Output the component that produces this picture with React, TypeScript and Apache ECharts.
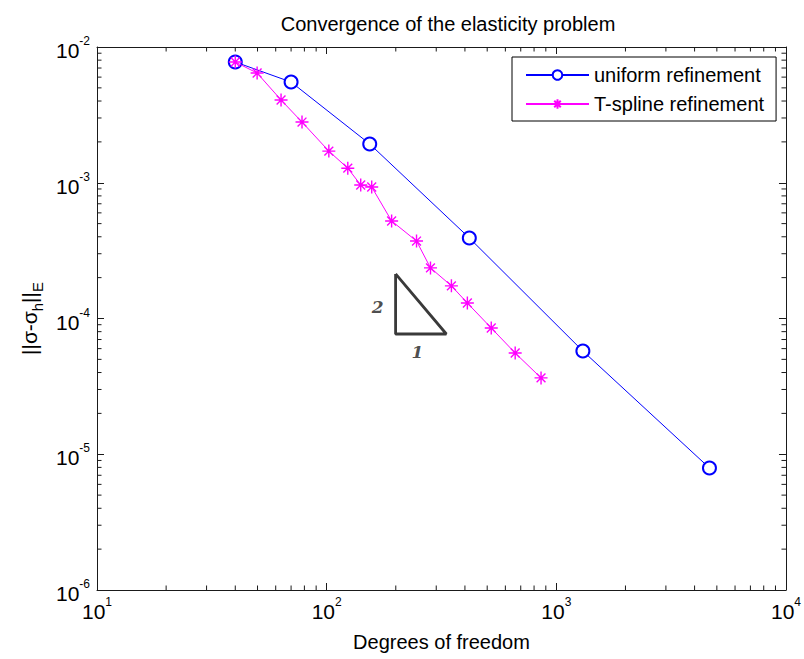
import React, { useEffect, useRef } from "react";
import * as echarts from "echarts";

const X_MIN = 10;
const X_MAX = 10000;
const Y_MIN = 1e-6;
const Y_MAX = 1e-2;

const uniformDofs = [40, 70, 154, 418, 1305, 4643];
const uniformErr = [7.75e-3, 5.52e-3, 1.93e-3, 3.92e-4, 5.76e-5, 7.92e-6];

const tsplineDofs = [40, 49.8, 63.3, 78.1, 102.2, 123.6, 140.7, 157.1, 191.8, 246.2, 283.2, 349.3, 409.9, 520.8, 662, 858];
const tsplineErr = [7.75e-3, 6.43e-3, 4.07e-3, 2.8e-3, 1.71e-3, 1.28e-3, 9.63e-4, 9.3e-4, 5.23e-4, 3.72e-4, 2.36e-4, 1.74e-4, 1.3e-4, 8.51e-5, 5.57e-5, 3.65e-5];

const slopeTriX = [199.6, 199.6, 332, 199.6];
const slopeTriY = [2.13e-4, 7.69e-5, 7.69e-5, 2.13e-4];
const slopeLabels = [
  { text: "2", x: 166.8, y: 1.215e-4 },
  { text: "1", x: 248.7, y: 5.66e-5 },
];

const xMinorTicks = [20, 30, 40, 50, 60, 70, 80, 90, 200, 300, 400, 500, 600, 700, 800, 900, 2000, 3000, 4000, 5000, 6000, 7000, 8000, 9000];
const yMinorTicks = [
  2e-6, 3e-6, 4e-6, 5e-6, 6e-6, 7e-6, 8e-6, 9e-6,
  2e-5, 3e-5, 4e-5, 5e-5, 6e-5, 7e-5, 8e-5, 9e-5,
  2e-4, 3e-4, 4e-4, 5e-4, 6e-4, 7e-4, 8e-4, 9e-4,
  2e-3, 3e-3, 4e-3, 5e-3, 6e-3, 7e-3, 8e-3, 9e-3,
];

const titleText = "Convergence of the elasticity problem";
const xName = "Degrees of freedom";
const seriesNames = ["uniform refinement", "T-spline refinement"];

const FONT = "Liberation Sans, Arial, sans-serif";
const ASTERISK = "path://M5,0L5,10M0,5L10,5M1.6,1.6L8.4,8.4M8.4,1.6L1.6,8.4";

const powLabel = (v: number) => {
  const e = Math.round(Math.log10(v));
  return `{b|10}{sup|${e}}`;
};

const tickRich = {
  b: { fontSize: 21, fontFamily: FONT, color: "#000", lineHeight: 24, verticalAlign: "top" as const, padding: [5, 0, 0, 0] },
  sup: { fontSize: 12, fontFamily: FONT, color: "#000", lineHeight: 12, verticalAlign: "top" as const },
};

export default function App() {
  const ref = useRef<HTMLDivElement>(null);
  useEffect(() => {
    if (!ref.current) return;
    const chart = echarts.init(ref.current, undefined, { renderer: "svg" });
    const axisLineStyle = { color: "#1a1a1a", width: 1 };
    const baseX = {
      type: "log" as const,
      logBase: 10,
      min: X_MIN,
      max: X_MAX,
      splitLine: { show: false },
      axisLine: { show: true, lineStyle: axisLineStyle },
      axisTick: { show: true, inside: true, length: 7, lineStyle: axisLineStyle },
    };
    const baseY = {
      type: "log" as const,
      logBase: 10,
      min: Y_MIN,
      max: Y_MAX,
      splitLine: { show: false },
      axisLine: { show: true, lineStyle: axisLineStyle },
      axisTick: { show: true, inside: true, length: 7, lineStyle: axisLineStyle },
    };
    const minorTickItem = (horizontal: boolean) => (params: any, api: any) => {
      const cs = params.coordSys;
      const v = api.value(horizontal ? 0 : 1);
      const p = api.coord(horizontal ? [v, Y_MIN] : [X_MIN, v]);
      const L = 4.5;
      const style = { stroke: "#1a1a1a", lineWidth: 1 };
      if (horizontal) {
        return {
          type: "group",
          children: [
            { type: "line", shape: { x1: p[0], y1: cs.y + cs.height, x2: p[0], y2: cs.y + cs.height - L }, style },
            { type: "line", shape: { x1: p[0], y1: cs.y, x2: p[0], y2: cs.y + L }, style },
          ],
        };
      }
      return {
        type: "group",
        children: [
          { type: "line", shape: { x1: cs.x, y1: p[1], x2: cs.x + L, y2: p[1] }, style },
          { type: "line", shape: { x1: cs.x + cs.width, y1: p[1], x2: cs.x + cs.width - L, y2: p[1] }, style },
        ],
      };
    };
    chart.setOption({
      animation: false,
      backgroundColor: "#fff",
      title: {
        text: titleText,
        left: 443,
        textAlign: "center",
        top: 9,
        textStyle: { fontFamily: FONT, fontSize: 20, fontWeight: "normal", color: "#000" },
      },
      grid: { left: 97, right: 15, top: 47, bottom: 69, containLabel: false },
      legend: {
        data: seriesNames,
        orient: "vertical",
        left: 512,
        top: 57,
        padding: [8, 12, 7, 13],
        itemGap: 9,
        itemWidth: 63,
        itemHeight: 12,
        borderColor: "#000",
        borderWidth: 1,
        backgroundColor: "#fff",
        textStyle: { fontFamily: FONT, fontSize: 20, color: "#000" },
      },
      xAxis: [
        {
          ...baseX,
          position: "bottom",
          name: xName,
          nameLocation: "middle",
          nameGap: 42,
          nameTextStyle: { fontFamily: FONT, fontSize: 20, color: "#000" },
          axisLabel: { show: true, margin: 6, formatter: powLabel, rich: tickRich },
        },
        { ...baseX, position: "top", axisLabel: { show: false } },
      ],
      yAxis: [
        {
          ...baseY,
          position: "left",
          name: "{n|||σ-σ}{sub|h}{n|||}{sub|E}",
          nameLocation: "middle",
          nameGap: 56,
          nameRotate: 90,
          nameTextStyle: {
            fontFamily: FONT,
            fontSize: 20,
            color: "#000",
            rich: {
              n: { fontSize: 21, fontFamily: FONT, color: "#000", lineHeight: 22, verticalAlign: "top" },
              sub: { fontSize: 15, fontFamily: FONT, color: "#000", lineHeight: 15, verticalAlign: "top", padding: [11, 0, 0, 0] },
            },
          },
          axisLabel: { show: true, margin: 7, formatter: powLabel, rich: tickRich },
        },
        { ...baseY, position: "right", axisLabel: { show: false } },
      ],
      series: [
        {
          type: "custom",
          silent: true,
          xAxisIndex: 0,
          yAxisIndex: 0,
          renderItem: minorTickItem(true),
          data: xMinorTicks.map((v) => [v, Y_MIN]),
          z: 1,
        },
        {
          type: "custom",
          silent: true,
          xAxisIndex: 0,
          yAxisIndex: 0,
          renderItem: minorTickItem(false),
          data: yMinorTicks.map((v) => [X_MIN, v]),
          z: 1,
        },
        {
          name: "slope",
          type: "line",
          silent: true,
          symbol: "none",
          lineStyle: { color: "#3a3a3a", width: 2.8 },
          data: slopeTriX.map((x, i) => [x, slopeTriY[i]]),
          z: 2,
        },
        {
          name: "slopeLabels",
          type: "scatter",
          silent: true,
          symbolSize: 0,
          data: slopeLabels.map((d) => ({ value: [d.x, d.y], name: d.text })),
          label: {
            show: true,
            position: "inside",
            formatter: (p: any) => p.name,
            fontFamily: "DejaVu Serif, serif",
            fontStyle: "italic",
            fontWeight: "bold",
            fontSize: 17,
            color: "#1e1e1e",
          },
        },
        {
          name: seriesNames[0],
          type: "line",
          data: uniformDofs.map((x, i) => [x, uniformErr[i]]),
          symbol: "emptyCircle",
          symbolSize: 13,
          lineStyle: { color: "#0000ff", width: 1 },
          itemStyle: { color: "#0000ff", borderColor: "#0000ff", borderWidth: 1.3 },
          z: 3,
        },
        {
          name: seriesNames[1],
          type: "line",
          data: tsplineDofs.map((x, i) => [x, tsplineErr[i]]),
          symbol: ASTERISK,
          symbolSize: 13,
          lineStyle: { color: "#ff00ff", width: 1 },
          itemStyle: { color: "#ff00ff", borderColor: "#ff00ff", borderWidth: 1.4 },
          z: 4,
        },
      ],
    });
    return () => chart.dispose();
  }, []);
  return <div ref={ref} style={{ position: "fixed", left: 0, top: 0, width: 804, height: 659 }} />;
}
